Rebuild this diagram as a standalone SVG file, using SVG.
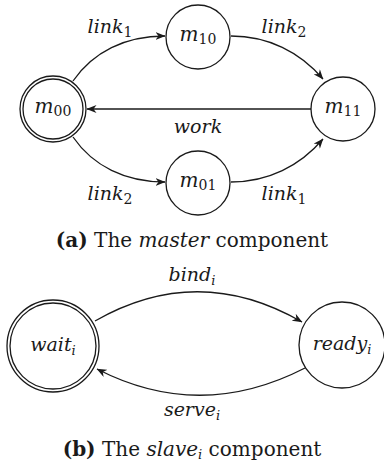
<svg xmlns="http://www.w3.org/2000/svg" width="384" height="469" viewBox="0 0 384 469">
  <style>
    .state { fill: #fff; stroke: #1a1a1a; stroke-width: 1.3; }
    .edge { fill: none; stroke: #1a1a1a; stroke-width: 1.3; marker-end: url(#stealth); }
    .math { font-family: "DejaVu Serif", serif; font-style: italic; font-size: 19px; fill: #1a1a1a; }
    .node { font-size: 20px; }
    .sub { font-style: normal; font-size: 14px; }
    .isub { font-style: italic; font-size: 13px; }
    .cap { font-family: "DejaVu Serif", serif; font-size: 20px; fill: #1a1a1a; }
    .b { font-weight: bold; }
    .i { font-style: italic; }
  </style>
  <defs>
    <marker id="stealth" viewBox="0 0 10 8" refX="9.5" refY="4" markerWidth="10" markerHeight="8" markerUnits="userSpaceOnUse" orient="auto">
      <path d="M0,0 L10,4 L0,8 L3,4 Z" fill="#1a1a1a"/>
    </marker>
  </defs>

  <!-- master component -->
  <g id="connectors-master">
    <path class="edge" d="M73,81 C93,52 125,36 165,36"/>
    <path class="edge" d="M231,36 C268,36 300,52 323,79"/>
    <path class="edge" d="M311,109 L87,109"/>
    <path class="edge" d="M73,137 C93,166 125,182 165,182"/>
    <path class="edge" d="M231,182 C268,182 300,166 323,139"/>
    <text class="math" x="110" y="33" text-anchor="middle">link<tspan class="sub" dy="4">1</tspan></text>
    <text class="math" x="284" y="33" text-anchor="middle">link<tspan class="sub" dy="4">2</tspan></text>
    <text class="math" x="198" y="133" text-anchor="middle">work</text>
    <text class="math" x="110" y="200" text-anchor="middle">link<tspan class="sub" dy="4">2</tspan></text>
    <text class="math" x="284" y="200" text-anchor="middle">link<tspan class="sub" dy="4">1</tspan></text>
  </g>

  <g id="m00">
    <circle class="state" cx="53" cy="109" r="33"/>
    <circle class="state" cx="53" cy="109" r="30"/>
    <text class="math node" x="53" y="113" text-anchor="middle">m<tspan class="sub" dy="3">00</tspan></text>
  </g>
  <g id="m10">
    <circle class="state" cx="198" cy="37" r="32"/>
    <text class="math node" x="198" y="41" text-anchor="middle">m<tspan class="sub" dy="3">10</tspan></text>
  </g>
  <g id="m11">
    <circle class="state" cx="343" cy="109" r="32"/>
    <text class="math node" x="343" y="113" text-anchor="middle">m<tspan class="sub" dy="3">11</tspan></text>
  </g>
  <g id="m01">
    <circle class="state" cx="198" cy="183" r="32"/>
    <text class="math node" x="198" y="187" text-anchor="middle">m<tspan class="sub" dy="3">01</tspan></text>
  </g>

  <text class="cap" x="192" y="247" text-anchor="middle"><tspan class="b">(a)</tspan> The <tspan class="i">master</tspan> component</text>

  <!-- slave component -->
  <g id="connectors-slave">
    <path class="edge" d="M95,321 Q198,262 302,322"/>
    <path class="edge" d="M305,368 Q200,422 97,369"/>
    <text class="math" x="192" y="281" text-anchor="middle">bind<tspan class="isub" dy="4">i</tspan></text>
    <text class="math" x="192" y="416" text-anchor="middle">serve<tspan class="isub" dy="4">i</tspan></text>
  </g>

  <g id="wait">
    <circle class="state" cx="53" cy="346" r="46"/>
    <circle class="state" cx="53" cy="346" r="43"/>
    <text class="math" x="53" y="351" text-anchor="middle">wait<tspan class="isub" dy="4">i</tspan></text>
  </g>
  <g id="ready">
    <circle class="state" cx="342" cy="345" r="43"/>
    <text class="math" x="342" y="350" text-anchor="middle">ready<tspan class="isub" dy="4">i</tspan></text>
  </g>

  <text class="cap" x="192" y="456" text-anchor="middle"><tspan class="b">(b)</tspan> The <tspan class="i">slave</tspan><tspan class="isub" dy="3">i</tspan><tspan dy="-3"> component</tspan></text>
</svg>
